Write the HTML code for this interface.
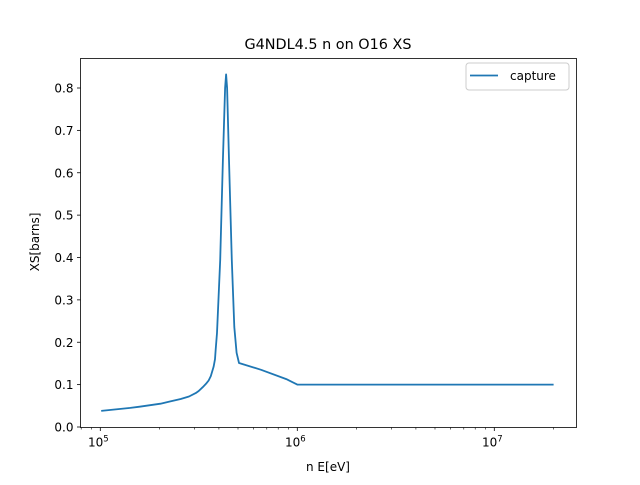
<!DOCTYPE html>
<html><head><meta charset="utf-8"><style>
body{margin:0;background:#fff;}
svg{font-family:"DejaVu Sans","Liberation Sans",sans-serif;}
</style></head><body>
<svg id="chart" width="640" height="480" viewBox="0 0 640 480" xmlns="http://www.w3.org/2000/svg">
<rect width="640" height="480" fill="#fff"/>
<text x="328" y="49" text-anchor="middle" font-size="14.4">G4NDL4.5 n on O16 XS</text>
<g id="axes"></g>
<text x="328" y="471" text-anchor="middle" font-size="12">n E[eV]</text>
<text transform="translate(39,242) rotate(-90)" text-anchor="middle" font-size="12">XS[barns]</text>
<g>
<rect x="466" y="63" width="103" height="27" rx="3" fill="#fff" stroke="#ccc" stroke-width="1"/>
<line x1="470" y1="75.5" x2="498" y2="75.5" stroke="#1f77b4" stroke-width="1.8"/>
<text x="510" y="80" font-size="12">capture</text>
</g>
</svg>
<script>
const energies=[1.01e5,1.42e5,1.585e5,2.02e5,2.24e5,2.56e5,2.82e5,3.05e5,3.16e5,3.31e5,3.44e5,3.55e5,3.64e5,3.76e5,3.82e5,3.85e5,3.91e5,4.06e5,4.19e5,4.30e5,4.35e5,4.40e5,4.50e5,4.65e5,4.79e5,4.92e5,5.06e5,6.55e5,8.79e5,1e6,2e7];
const xs=[0.038,0.045,0.048,0.055,0.060,0.066,0.072,0.080,0.085,0.094,0.102,0.110,0.120,0.142,0.160,0.180,0.222,0.394,0.630,0.800,0.832,0.800,0.630,0.394,0.236,0.175,0.151,0.135,0.113,0.100,0.100];
const yTicks=[0,0.1,0.2,0.3,0.4,0.5,0.6,0.7,0.8];
const yTickLabels=["0.0","0.1","0.2","0.3","0.4","0.5","0.6","0.7","0.8"];
const xDecades=[5,6,7];
const NS="http://www.w3.org/2000/svg";
const L=80.5,R=576.5,T=58.5,B=427.5;
function xScale(e){return 100.3+(Math.log10(e)-5)*197;}
function yScale(v){return 427+(-v)*423.75;}
const g=document.getElementById('axes');
function mk(t,a){const el=document.createElementNS(NS,t);for(const k in a)el.setAttribute(k,a[k]);g.appendChild(el);return el;}
yTicks.forEach((v,i)=>{const y=yScale(v);
const t=mk('line',{x1:L-3.5,x2:L,y1:y,y2:y,stroke:'#000','stroke-width':0.8});


const tx=mk('text',{x:L-7,y:y+4.5,'text-anchor':'end','font-size':12});tx.textContent=yTickLabels[i];


});
xDecades.forEach(d=>{const x=xScale(Math.pow(10,d));
const t=mk('line',{x1:x,x2:x,y1:B,y2:B+3.5,stroke:'#000','stroke-width':0.8});


const tx=mk('text',{x:x-2,y:B+19,'text-anchor':'middle','font-size':12});


tx.innerHTML='10<tspan dy="-5" font-size="8.5">'+d+'</tspan>';
});
for(let d=4;d<=7;d++)for(let m=2;m<=9;m++){const x=xScale(m*Math.pow(10,d));if(x<L||x>R)continue;
const t=mk('line',{x1:x,x2:x,y1:B,y2:B+2,stroke:'#000','stroke-width':0.6});

}
const pts=energies.map((e,i)=>xScale(e).toFixed(1)+','+yScale(xs[i]).toFixed(1)).join(' ');
const pl=mk('polyline',{points:pts,fill:'none',stroke:'#1f77b4','stroke-width':1.8,'stroke-linejoin':'round'});


const fr=mk('rect',{x:L,y:T,width:R-L,height:B-T,fill:'none',stroke:'#000','stroke-width':0.8});


</script>
</body></html>
